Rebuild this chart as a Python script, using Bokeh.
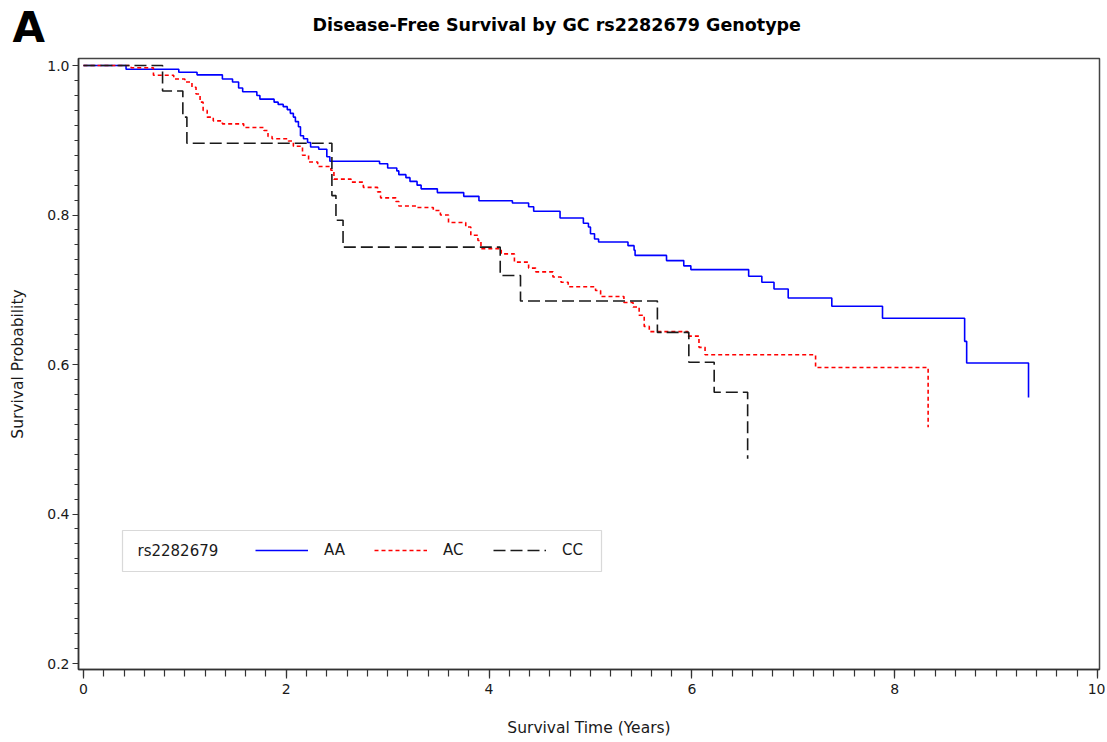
from bokeh.plotting import figure
from bokeh.models import (Range1d, FixedTicker, PrintfTickFormatter, Label,
                          Legend, LegendItem, BoxAnnotation, Title)
from bokeh.embed import file_html
from bokeh.resources import INLINE
import numpy as np

# ---------------- data ----------------
aa_time = [0, 0.42, 0.94, 1.12, 1.37, 1.47, 1.53, 1.57, 1.71, 1.74, 1.88, 1.92,
           1.97, 2.01, 2.04, 2.07, 2.09, 2.12, 2.14, 2.17, 2.21, 2.24, 2.32,
           2.40, 2.43, 2.92, 3.00, 3.09, 3.11, 3.18, 3.22, 3.29, 3.33, 3.49,
           3.75, 3.90, 4.23, 4.39, 4.44, 4.70, 4.93, 4.98, 5.00, 5.04, 5.08,
           5.37, 5.43, 5.44, 5.75, 5.92, 5.99, 6.56, 6.69, 6.81, 6.95, 7.38,
           7.88, 8.69, 8.71, 9.32]
aa_surv = [1.0, 0.995, 0.991, 0.9875, 0.982, 0.978, 0.970, 0.965, 0.960, 0.955,
           0.951, 0.948, 0.945, 0.941, 0.936, 0.931, 0.925, 0.918, 0.906, 0.902,
           0.897, 0.891, 0.888, 0.878, 0.872, 0.8685, 0.863, 0.859, 0.854,
           0.850, 0.845, 0.840, 0.835, 0.830, 0.825, 0.819, 0.816, 0.811,
           0.805, 0.796, 0.789, 0.784, 0.775, 0.768, 0.764, 0.759, 0.753,
           0.746, 0.739, 0.732, 0.727, 0.718, 0.710, 0.701, 0.689, 0.678,
           0.662, 0.631, 0.602, 0.556]

ac_time = [0, 0.47, 0.69, 0.89, 1.00, 1.07, 1.11, 1.15, 1.18, 1.22, 1.28, 1.37,
           1.58, 1.78, 1.82, 1.86, 2.02, 2.07, 2.16, 2.22, 2.31, 2.44, 2.47,
           2.64, 2.76, 2.90, 2.93, 3.08, 3.11, 3.28, 3.45, 3.52, 3.60, 3.77,
           3.82, 3.89, 3.92, 4.12, 4.25, 4.39, 4.46, 4.63, 4.71, 4.78, 5.05,
           5.10, 5.33, 5.42, 5.48, 5.53, 5.58, 5.96, 6.07, 6.13, 7.22, 8.33]
ac_surv = [1.0, 0.997, 0.987, 0.982, 0.978, 0.971, 0.962, 0.951, 0.940, 0.931,
           0.926, 0.922, 0.917, 0.913, 0.905, 0.902, 0.899, 0.892, 0.880,
           0.871, 0.865, 0.860, 0.848, 0.844, 0.837, 0.831, 0.823, 0.818,
           0.812, 0.810, 0.806, 0.800, 0.790, 0.784, 0.773, 0.766, 0.755,
           0.748, 0.737, 0.729, 0.724, 0.717, 0.710, 0.704, 0.699, 0.691,
           0.683, 0.677, 0.666, 0.651, 0.644, 0.638, 0.623, 0.613, 0.596,
           0.516]

cc_time = [0, 0.78, 0.98, 1.02, 2.45, 2.49, 2.56, 4.11, 4.31, 5.66, 5.97, 6.22, 6.55]
cc_surv = [1.0, 0.966, 0.931, 0.896, 0.826, 0.793, 0.757, 0.719, 0.685, 0.643,
           0.603, 0.563, 0.474]

groups = ["AA", "AC", "CC"]
legend_title = "rs2282679"
x_ticks = [0, 2, 4, 6, 8, 10]
x_tick_labels = ["0", "2", "4", "6", "8", "10"]
y_ticks = [0.2, 0.4, 0.6, 0.8, 1.0]
y_tick_labels = ["0.2", "0.4", "0.6", "0.8", "1.0"]
title_text = "Disease-Free Survival by GC rs2282679 Genotype"
panel_letter = "A"
x_label = "Survival Time (Years)"
y_label = "Survival Probability"

# ---------------- layout ----------------
FONT = "DejaVu Sans"
W, H = 1105, 740
FL, FT, FR, FB = 78, 58, 1099, 669          # frame edges in canvas pixels
BL, BT, BR, BB = FL, FT, W - FR, H - FB
X0, X1 = -0.049, 10.02
Y0, Y1 = 0.192, 1.0094


def px_x(cx):
    return X0 + (cx - FL) / (FR - FL) * (X1 - X0)


def px_y(cy):
    return Y1 - (cy - FT) / (FB - FT) * (Y1 - Y0)


p = figure(width=W, height=H, x_range=Range1d(X0, X1), y_range=Range1d(Y0, Y1),
           min_border_left=BL, min_border_right=BR, min_border_top=BT,
           min_border_bottom=BB, toolbar_location=None, output_backend="svg")
p.grid.visible = False
p.background_fill_color = "white"
p.border_fill_color = "white"
p.outline_line_color = "#444444"
p.outline_line_width = 1.5

ax_col = "#333333"
txt_col = "#1a1a1a"

xa = p.xaxis[0]
xa.ticker = FixedTicker(ticks=x_ticks, minor_ticks=list(np.round(np.arange(0, 10.01, 0.2), 2)))
xa.formatter = PrintfTickFormatter(format="%d")
xa.major_label_overrides = {t: l for t, l in zip(x_ticks, x_tick_labels)}
xa.major_tick_in = 0
xa.minor_tick_in = 0
xa.major_tick_out = 9
xa.minor_tick_out = 7
xa.major_label_standoff = 5
xa.axis_label = x_label
xa.axis_label_standoff = 22

ya = p.yaxis[0]
ya.ticker = FixedTicker(ticks=y_ticks, minor_ticks=list(np.round(np.arange(0.2, 1.001, 0.02), 3)))
ya.formatter = PrintfTickFormatter(format="%.1f")
ya.major_label_overrides = {t: l for t, l in zip(y_ticks, y_tick_labels)}
ya.major_tick_in = 0
ya.minor_tick_in = 0
ya.major_tick_out = 6
ya.minor_tick_out = 4
ya.major_label_standoff = 3
ya.axis_label = y_label
ya.axis_label_standoff = 17

for ax in (xa, ya):
    ax.axis_line_color = ax_col
    ax.axis_line_width = 1.5
    ax.major_tick_line_color = ax_col
    ax.minor_tick_line_color = ax_col
    ax.major_tick_line_width = 1.2
    ax.minor_tick_line_width = 1.2
    ax.major_label_text_font = FONT
    ax.major_label_text_font_size = "14px"
    ax.major_label_text_color = txt_col
    ax.axis_label_text_font = FONT
    ax.axis_label_text_font_size = "15.5px"
    ax.axis_label_text_font_style = "normal"
    ax.axis_label_text_color = txt_col

# ---------------- curves ----------------
r_aa = p.step(aa_time, aa_surv, mode="after", line_color="#0000ff", line_width=1.6)
r_ac = p.step(ac_time, ac_surv, mode="after", line_color="#ff0000", line_width=1.6,
              line_dash="4 3")
r_cc = p.step(cc_time, cc_surv, mode="after", line_color="#1a1a1a", line_width=1.6,
              line_dash="12 5")

# ---------------- legend ----------------
box = BoxAnnotation(left=px_x(122), right=px_x(601), top=px_y(530), bottom=px_y(571),
                    fill_alpha=0, line_color="#808080", line_width=1.2)
p.add_layout(box)

leg = Legend(items=[LegendItem(label=g, renderers=[r]) for g, r in zip(groups, [r_aa, r_ac, r_cc])],
             orientation="horizontal", location=(255 - FL, FB - 560),
             glyph_width=53, glyph_height=20, label_height=20, label_width=24,
             label_standoff=16, spacing=26, padding=0, margin=0,
             border_line_alpha=0, background_fill_alpha=0,
             label_text_font=FONT, label_text_font_size="15px",
             label_text_color=txt_col)
p.add_layout(leg, "center")

p.add_layout(Label(x=px_x(137), y=px_y(550), text=legend_title, text_font=FONT,
                   text_font_size="15px", text_color=txt_col, text_baseline="middle"))

# ---------------- titles (stacked in the top panel) ----------------
# main title (closest to the frame): text block anchored at its top
main_title = Title(text=title_text + "\n\n", align="left", offset=312 - FL,
                   standoff=-36, vertical_align="top",
                   text_font=FONT, text_font_size="17.5px", text_font_style="bold",
                   text_color="black")
p.add_layout(main_title, "above")
# panel letter (outer): anchored at its bottom
letter_title = Title(text=panel_letter, align="left", offset=12 - FL, standoff=-39,
                     vertical_align="bottom",
                     text_font=FONT, text_font_size="42px", text_font_style="bold",
                     text_color="black")
p.add_layout(letter_title, "above")

open("out.html", "w").write(file_html(p, INLINE))
